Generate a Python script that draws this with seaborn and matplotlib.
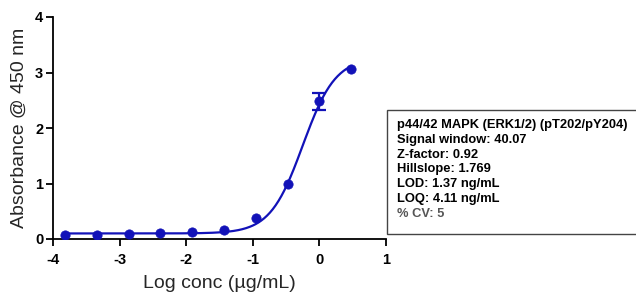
import numpy as np
import pandas as pd
import matplotlib
matplotlib.use("Agg")
import matplotlib.pyplot as plt
from matplotlib.patches import Rectangle
import seaborn as sns

# Data
log_conc = [-3.817, -3.340, -2.863, -2.386, -1.908, -1.431, -0.954, -0.477, 0.0, 0.477]
absorbance = [0.066, 0.072, 0.09, 0.11, 0.126, 0.156, 0.38, 0.99, 2.48, 3.07]
abs_err = [0.0, 0.0, 0.0, 0.0, 0.0, 0.0, 0.0, 0.0, 0.15, 0.0]

# 4PL fit parameters (estimated; hill slope from the annotation)
fit_bottom = 0.10
fit_top = 3.27
fit_logec50 = -0.25
fit_hillslope = 1.769

x_ticks = [-4, -3, -2, -1, 0, 1]
y_ticks = [0, 1, 2, 3, 4]
x_label = "Log conc (µg/mL)"
y_label = "Absorbance @ 450 nm"
info_lines = [
    "p44/42 MAPK (ERK1/2) (pT202/pY204)",
    "Signal window: 40.07",
    "Z-factor: 0.92",
    "Hillslope: 1.769",
    "LOD: 1.37 ng/mL",
    "LOQ: 4.11 ng/mL",
    "% CV: 5",
]

sns.set_style("ticks")
plt.rcParams["font.family"] = ["Liberation Sans", "DejaVu Sans"]

W, H = 636, 295
fig = plt.figure(figsize=(W / 100, H / 100), dpi=100)
left, right, top, bottom = 53, 386, 17, 239
ax = fig.add_axes([left / W, 1 - bottom / H, (right - left) / W, (bottom - top) / H])

blue = "#1212B8"

xs = np.linspace(min(log_conc), max(log_conc), 300)
ys = fit_bottom + (fit_top - fit_bottom) / (1 + 10 ** ((fit_logec50 - xs) * fit_hillslope))
curve = pd.DataFrame({"x": xs, "y": ys})
pts = pd.DataFrame({"x": log_conc, "y": absorbance, "err": abs_err})

sns.lineplot(data=curve, x="x", y="y", ax=ax, color=blue, linewidth=1.6)
sub = pts[pts["err"] > 0]
ax.errorbar(sub["x"], sub["y"], yerr=sub["err"], fmt="none", ecolor=blue,
            elinewidth=1.6, capsize=5, capthick=1.6, zorder=3)
sns.scatterplot(data=pts, x="x", y="y", ax=ax, color=blue, s=45,
                edgecolor=blue, linewidth=0.5, zorder=4)

ax.set_xlim(-4, 1)
ax.set_ylim(0, 4)
ax.set_xticks(x_ticks)
ax.set_yticks(y_ticks)
ax.set_xticklabels([str(t) for t in x_ticks], fontsize=10.5, fontweight="bold")
ax.set_yticklabels([str(t) for t in y_ticks], fontsize=10.5, fontweight="bold")
ax.tick_params(axis="x", direction="out", length=5, width=1.3, colors="black", pad=5)
ax.tick_params(axis="y", direction="out", length=5, width=1.3, colors="black", pad=2)
for s in ["top", "right"]:
    ax.spines[s].set_visible(False)
for s in ["left", "bottom"]:
    ax.spines[s].set_linewidth(1.3)
    ax.spines[s].set_color("black")
ax.set_xlabel(x_label, fontsize=14, labelpad=6)
ax.set_ylabel(y_label, fontsize=14, labelpad=5)
ax.patch.set_alpha(0)

# info box
bx0, by0, by1 = 387, 110, 234
rect = Rectangle((bx0 / W, 1 - by1 / H), (W + 20 - bx0) / W, (by1 - by0) / H,
                 transform=fig.transFigure, facecolor="white", edgecolor="#444444",
                 linewidth=1.0, clip_on=False)
fig.patches.append(rect)
line_h = 14.8
for i, t in enumerate(info_lines):
    fig.text(397 / W, 1 - (125 + i * line_h) / H, t, fontsize=9.3, fontweight="bold",
             color="#555555" if t.startswith("%") else "black", va="center", ha="left")

fig.savefig("out.png", dpi=100)
